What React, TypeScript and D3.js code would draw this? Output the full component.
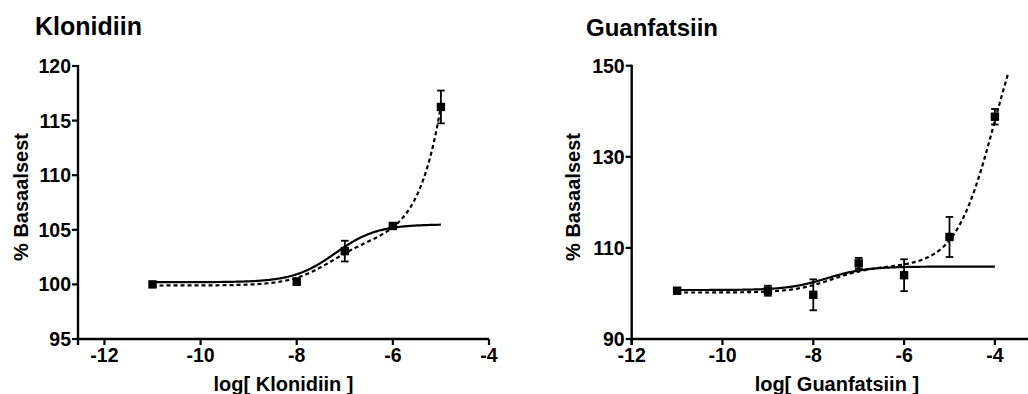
import React from "react";
import * as d3 from "d3";

// ---------- Data ----------
// Klonidiin measured points (log concentration, % of basal, SEM)
const kloX = [-11, -8, -7, -6, -5];
const kloMean = [100.0, 100.25, 103.05, 105.35, 116.25];
const kloSem = [0, 0.3, 0.95, 0.2, 1.5];

// Guanfatsiin measured points
const guanX = [-11, -9, -8, -7, -6, -5, -4];
const guanMean = [100.6, 100.6, 99.7, 106.6, 104.0, 112.4, 138.8];
const guanSem = [0.3, 1.1, 3.4, 1.2, 3.5, 4.4, 1.7];

// Fitted curve parameters
// monophasic: [bottom, top, logEC50]
const kloSolidFit = [100.2, 105.5, -7.2];
// biphasic: [bottom, span1, logEC50_1, span2, logEC50_2]
const kloDashedFit = [99.9, 4.2, -7.3, 134.6, -4];
const guanSolidFit = [100.75, 105.9, -7.7];
const guanDashedFit = [100.2, 5.7, -7.6, 64, -4];

// curve x extents
const kloSolidRange = [-11, -5];
const kloDashedRange = [-11, -5];
const guanSolidRange = [-11, -4];
const guanDashedRange = [-11, -3.7];

// tick labels
const kloYTicks = [95, 100, 105, 110, 115, 120];
const kloXTicks = [-12, -10, -8, -6, -4];
const guanYTicks = [90, 110, 130, 150];
const guanXTicks = [-12, -10, -8, -6, -4];

const FONT = "'Liberation Sans', Arial, Helvetica, sans-serif";

function mono(p: number[]) {
  return (x: number) => p[0] + (p[1] - p[0]) / (1 + Math.pow(10, p[2] - x));
}
function bi(p: number[]) {
  return (x: number) =>
    p[0] + p[1] / (1 + Math.pow(10, p[2] - x)) + p[3] / (1 + Math.pow(10, p[4] - x));
}

type PanelProps = {
  title: string;
  titleX: number;
  titleY: number;
  titleSize: number;
  xLabel: string;
  xDomain: [number, number];
  xRange: [number, number];
  yDomain: [number, number];
  yRange: [number, number];
  xTicks: number[];
  yTicks: number[];
  xs: number[];
  means: number[];
  sems: number[];
  solid: (x: number) => number;
  dashed: (x: number) => number;
  solidRange: number[];
  dashedRange: number[];
  yLabelX: number;
  xAxisEnd: number;
};

function Panel(p: PanelProps) {
  const x = d3.scaleLinear().domain(p.xDomain).range(p.xRange);
  const y = d3.scaleLinear().domain(p.yDomain).range(p.yRange);
  const line = d3
    .line<number>()
    .x((d) => x(d))
    .curve(d3.curveLinear);
  const mk = (f: (v: number) => number, r: number[]) => {
    const n = 300;
    const pts = d3.range(n + 1).map((i) => r[0] + ((r[1] - r[0]) * i) / n);
    return line.y((d) => y(f(d)))(pts) || "";
  };
  const ax = p.xRange[0];
  const ay = p.yRange[0];
  const top = p.yRange[1];
  const tickLen = 6;
  return (
    <g fontFamily={FONT} fontWeight="bold" fill="#000">
      <text x={p.titleX} y={p.titleY} fontSize={p.titleSize}>
        {p.title}
      </text>
      {/* y axis */}
      <line x1={ax} x2={ax} y1={top - 1} y2={ay + tickLen} stroke="#000" strokeWidth={2.4} />
      {p.yTicks.map((t) => (
        <g key={"y" + t}>
          <line x1={ax - tickLen} x2={ax} y1={y(t)} y2={y(t)} stroke="#000" strokeWidth={2.2} />
          <text x={ax - 7} y={y(t)} dy="0.36em" textAnchor="end" fontSize={19.5}>
            {t}
          </text>
        </g>
      ))}
      {/* x axis */}
      <line x1={ax - 1} x2={p.xAxisEnd} y1={ay} y2={ay} stroke="#000" strokeWidth={2.4} />
      {p.xTicks.map((t) => (
        <g key={"x" + t}>
          <line x1={x(t)} x2={x(t)} y1={ay} y2={ay + tickLen} stroke="#000" strokeWidth={2.2} />
          <text x={x(t)} y={362} textAnchor="middle" fontSize={19.5}>
            {t}
          </text>
        </g>
      ))}
      <text
        x={(ax + p.xAxisEnd) / 2}
        y={391}
        textAnchor="middle"
        fontSize={20}
      >
        {p.xLabel}
      </text>
      <text
        transform={`translate(${p.yLabelX},197) rotate(-90)`}
        textAnchor="middle"
        fontSize={20}
      >
        % Basaalsest
      </text>
      {/* curves */}
      <path d={mk(p.solid, p.solidRange)} fill="none" stroke="#000" strokeWidth={2.2} />
      <path
        d={mk(p.dashed, p.dashedRange)}
        fill="none"
        stroke="#000"
        strokeWidth={2.2}
        strokeDasharray="4,3"
      />
      {/* error bars & markers */}
      {p.xs.map((xv, i) => {
        const cx = x(xv);
        const m = p.means[i];
        const s = p.sems[i];
        return (
          <g key={"p" + i}>
            {s > 0 && (
              <g stroke="#000" strokeWidth={1.8}>
                <line x1={cx} x2={cx} y1={y(m - s)} y2={y(m + s)} />
                <line x1={cx - 3.8} x2={cx + 3.8} y1={y(m + s)} y2={y(m + s)} />
                <line x1={cx - 3.8} x2={cx + 3.8} y1={y(m - s)} y2={y(m - s)} />
              </g>
            )}
            <rect x={cx - 4.2} y={y(m) - 4.2} width={8.4} height={8.4} fill="#000" />
          </g>
        );
      })}
    </g>
  );
}

export default function App() {
  return (
    <svg
      width={1028}
      height={394}
      style={{ position: "absolute", left: 0, top: 0, background: "#fff" }}
    >
      <rect width={1028} height={394} fill="#fff" />
      <Panel
        title="Klonidiin"
        titleX={35}
        titleY={35}
        titleSize={25}
        xLabel="log[ Klonidiin ]"
        xDomain={[-12.55, -4]}
        xRange={[78, 489]}
        yDomain={[95, 120]}
        yRange={[339, 66]}
        xTicks={kloXTicks}
        yTicks={kloYTicks}
        xs={kloX}
        means={kloMean}
        sems={kloSem}
        solid={mono(kloSolidFit)}
        dashed={bi(kloDashedFit)}
        solidRange={kloSolidRange}
        dashedRange={kloDashedRange}
        yLabelX={28}
        xAxisEnd={489}
      />
      <Panel
        title="Guanfatsiin"
        titleX={586}
        titleY={36}
        titleSize={24}
        xLabel="log[ Guanfatsiin ]"
        xDomain={[-12, -3]}
        xRange={[631.7, 1040.3]}
        yDomain={[90, 150]}
        yRange={[339, 65.7]}
        xTicks={guanXTicks}
        yTicks={guanYTicks}
        xs={guanX}
        means={guanMean}
        sems={guanSem}
        solid={mono(guanSolidFit)}
        dashed={bi(guanDashedFit)}
        solidRange={guanSolidRange}
        dashedRange={guanDashedRange}
        yLabelX={580}
        xAxisEnd={1042}
      />
    </svg>
  );
}
